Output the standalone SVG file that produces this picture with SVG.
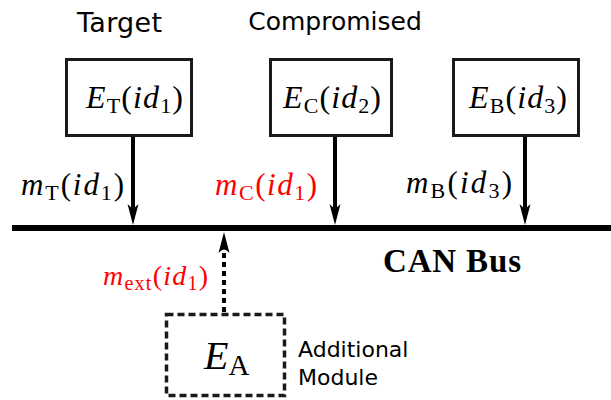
<svg xmlns="http://www.w3.org/2000/svg" width="611" height="400" viewBox="0 0 611 400">
<style>
.lbl{font-family:"DejaVu Sans",sans-serif;fill:#000}
.m{font-family:"Liberation Serif","Times New Roman",serif;font-style:italic;fill:#000}
.r{fill:#ff0000}
.up{font-style:normal}
.box{fill:#fff;stroke:#1a1a1a;stroke-width:3}
.dbox{fill:#fff;stroke:#1a1a1a;stroke-width:3.5;stroke-dasharray:7 4}
.wire{stroke:#000;stroke-width:4;fill:none}
.bus{stroke:#000;stroke-width:6}
.head{fill:#000}
</style>
<g id="connectors">
<line class="bus" x1="12" y1="228" x2="611" y2="228"/>
<line class="wire" x1="133" y1="137" x2="133" y2="212"/>
<path class="head" d="M133,225 L127.5,204 Q133,211 138.5,204 Z"/>
<line class="wire" x1="335" y1="137" x2="335" y2="212"/>
<path class="head" d="M335,225 L329.5,204 Q335,211 340.5,204 Z"/>
<line class="wire" x1="525" y1="137" x2="525" y2="212"/>
<path class="head" d="M525,225 L519.5,204 Q525,211 530.5,204 Z"/>
<line class="wire" x1="224" y1="312" x2="224" y2="246" stroke-width="5" stroke-dasharray="5 4"/>
<path class="head" d="M224,232 L218.5,253 Q224,246 229.5,253 Z"/>
</g>
<g id="label-target"><text class="lbl" x="77" y="32" font-size="27" textLength="85">Target</text></g>
<g id="label-compromised"><text class="lbl" x="335" y="30" font-size="25" text-anchor="middle">Compromised</text></g>
<g id="node-ET">
<rect class="box" x="66.5" y="59.5" width="125" height="76"/>
<text class="m" x="86" y="108" font-size="32" textLength="97">E<tspan class="up" font-size="22" dy="5">T</tspan><tspan class="up" dy="-5">(</tspan>id<tspan class="up" font-size="22" dy="5">1</tspan><tspan class="up" dy="-5">)</tspan></text>
</g>
<g id="node-EC">
<rect class="box" x="270.5" y="59.5" width="121" height="76"/>
<text class="m" x="283" y="108" font-size="32" textLength="98">E<tspan class="up" font-size="22" dy="5">C</tspan><tspan class="up" dy="-5">(</tspan>id<tspan class="up" font-size="22" dy="5">2</tspan><tspan class="up" dy="-5">)</tspan></text>
</g>
<g id="node-EB">
<rect class="box" x="453.5" y="59.5" width="125" height="76"/>
<text class="m" x="469" y="108" font-size="32" textLength="98">E<tspan class="up" font-size="22" dy="5">B</tspan><tspan class="up" dy="-5">(</tspan>id<tspan class="up" font-size="22" dy="5">3</tspan><tspan class="up" dy="-5">)</tspan></text>
</g>
<g id="msg-T"><text class="m" x="21" y="195" font-size="31" textLength="103">m<tspan class="up" font-size="22" dy="5">T</tspan><tspan class="up" dy="-5">(</tspan>id<tspan class="up" font-size="22" dy="5">1</tspan><tspan class="up" dy="-5">)</tspan></text></g>
<g id="msg-C"><text class="m r" x="215" y="195" font-size="31" textLength="102">m<tspan class="up" font-size="22" dy="5">C</tspan><tspan class="up" dy="-5">(</tspan>id<tspan class="up" font-size="22" dy="5">1</tspan><tspan class="up" dy="-5">)</tspan></text></g>
<g id="msg-B"><text class="m" x="406" y="193" font-size="31" textLength="106">m<tspan class="up" font-size="22" dy="5">B</tspan><tspan class="up" dy="-5">(</tspan>id<tspan class="up" font-size="22" dy="5">3</tspan><tspan class="up" dy="-5">)</tspan></text></g>
<g id="label-canbus"><text x="383" y="272" font-family="Liberation Serif,serif" font-weight="bold" font-size="33" textLength="138">CAN Bus</text></g>
<g id="msg-ext"><text class="m r" x="103" y="285" font-size="28" textLength="105">m<tspan class="up" font-size="20" dy="5">ext</tspan><tspan class="up" dy="-5">(</tspan>id<tspan class="up" font-size="20" dy="5">1</tspan><tspan class="up" dy="-5">)</tspan></text></g>
<g id="node-EA">
<rect class="dbox" x="166.5" y="314.5" width="118" height="81"/>
<text class="m" x="204" y="369" font-size="40">E<tspan class="up" font-size="29" dy="6">A</tspan></text>
</g>
<g id="label-additional"><text class="lbl" font-size="22"><tspan x="298" y="357">Additional</tspan><tspan x="298" y="385">Module</tspan></text></g>
</svg>
